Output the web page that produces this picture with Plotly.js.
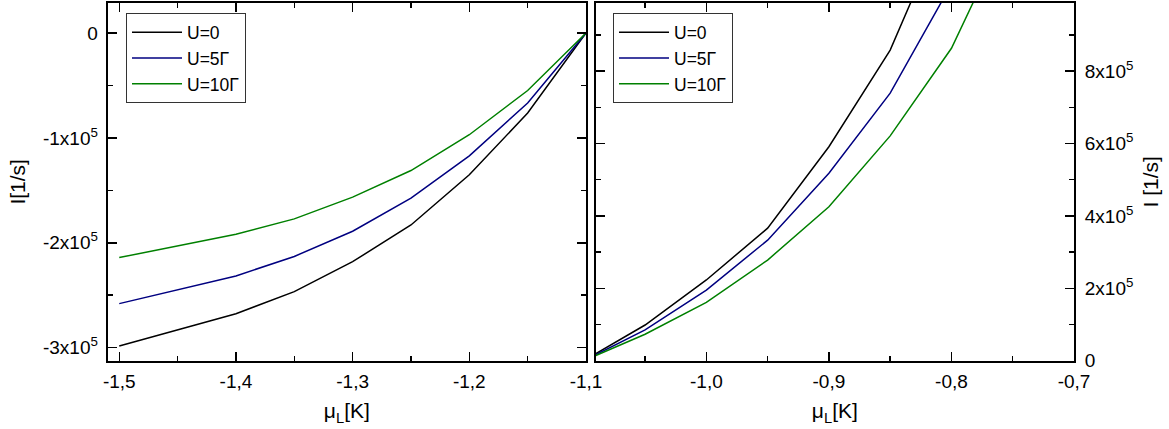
<!DOCTYPE html>
<html>
<head>
<meta charset="utf-8">
<script src="https://cdn.plot.ly/plotly-3.0.1.min.js"></script>
<style>html,body{margin:0;padding:0;background:#fff;}#plot{width:1169px;height:429px;}</style>
</head>
<body>
<div id="plot"></div>
<script>
// ---- data (left panel: negative bias) ----
const xLeft = [-1.5, -1.4, -1.35, -1.3, -1.25, -1.2, -1.15, -1.1];
const leftU0   = [-2.984e5, -2.676e5, -2.466e5, -2.18e5, -1.83e5, -1.352e5, -0.763e5, 0];
const leftU5   = [-2.58e5, -2.316e5, -2.13e5, -1.89e5, -1.575e5, -1.171e5, -0.668e5, 0];
const leftU10  = [-2.141e5, -1.918e5, -1.772e5, -1.565e5, -1.311e5, -0.970e5, -0.548e5, 0];

// ---- data (right panel: positive bias) ----
const xRight = [-1.1, -1.05, -1.0, -0.95, -0.9, -0.85, -0.8, -0.75];
const rightU0  = [0, 0.986e5, 2.23e5, 3.66e5, 5.91e5, 8.58e5, 12.5e5, null];
const rightU5  = [0, 0.85e5, 1.95e5, 3.33e5, 5.18e5, 7.39e5, 10.4e5, null];
const rightU10 = [0, 0.73e5, 1.61e5, 2.78e5, 4.25e5, 6.21e5, 8.63e5, 12.2e5];

const seriesNames = ['U=0', 'U=5\u0393', 'U=10\u0393'];

// ---- ticks ----
const xLeftTickVals = [-1.5, -1.4, -1.3, -1.2, -1.1];
const xLeftTickText = ['-1,5', '-1,4', '-1,3', '-1,2', '-1,1'];
const xLeftMinor = [-1.45, -1.35, -1.25, -1.15];
const yLeftTickVals = [0, -1e5, -2e5, -3e5];
const yLeftTickText = ['0', '-1x10<sup>5</sup>', '-2x10<sup>5</sup>', '-3x10<sup>5</sup>'];
const yLeftMinor = [-0.5e5, -1.5e5, -2.5e5];
const xRightTickVals = [-1.0, -0.9, -0.8, -0.7];
const xRightTickText = ['-1,0', '-0,9', '-0,8', '-0,7'];
const xRightMinor = [-1.05, -0.95, -0.85, -0.75];
const yRightTickVals = [0, 2e5, 4e5, 6e5, 8e5];
const yRightTickText = ['0', '2x10<sup>5</sup>', '4x10<sup>5</sup>', '6x10<sup>5</sup>', '8x10<sup>5</sup>'];
const yRightMinor = [1e5, 3e5, 5e5, 7e5, 9e5];

const colors = ['#000000', '#000080', '#008000'];
const FONT = 'Arial, "Liberation Sans", sans-serif';

const leftY = [leftU0, leftU5, leftU10];
const rightY = [rightU0, rightU5, rightU10];
const traces = [];
for (let i = 0; i < 3; i++) {
  traces.push({x: xLeft, y: leftY[i], xaxis: 'x', yaxis: 'y', mode: 'lines', name: seriesNames[i],
    line: {color: colors[i], width: 1.5}, legend: 'legend'});
}
for (let i = 0; i < 3; i++) {
  traces.push({x: xRight, y: rightY[i], xaxis: 'x2', yaxis: 'y2', mode: 'lines', name: seriesNames[i],
    line: {color: colors[i], width: 1.5}, legend: 'legend2', connectgaps: false});
}

const W = 1169, H = 429;
const axBase = {
  showline: true, linecolor: '#000', linewidth: 2, mirror: 'ticks',
  ticks: 'inside', ticklen: 9, tickwidth: 1.5, tickcolor: '#000',
  showgrid: false, zeroline: false, automargin: false,
  tickfont: {family: FONT, size: 19, color: '#000'}
};
function minor(vals) { return {tickmode: 'array', tickvals: vals, ticks: 'inside', ticklen: 5, tickwidth: 1.5, tickcolor: '#000', showgrid: false}; }

const yDom = [1 - 360.7 / H, 1 - 3 / H];
const layout = {
  width: W, height: H,
  margin: {l: 0, r: 0, t: 0, b: 0},
  paper_bgcolor: '#fff', plot_bgcolor: '#fff',
  font: {family: FONT, color: '#000'},
  showlegend: true,
  xaxis: Object.assign({}, axBase, {
    domain: [107.7 / W, 586 / W], range: [-1.5099, -1.1], anchor: 'y',
    tickmode: 'array', tickvals: xLeftTickVals, ticktext: xLeftTickText, minor: minor(xLeftMinor),
    ticklabelstandoff: 2,
    title: {text: '\u03bc<sub>L</sub>[K]', font: {family: FONT, size: 21}, standoff: 13}
  }),
  yaxis: Object.assign({}, axBase, {
    domain: yDom, range: [-3.124e5, 0.286e5], anchor: 'x',
    tickmode: 'array', tickvals: yLeftTickVals, ticktext: yLeftTickText, minor: minor(yLeftMinor),
    ticklabelstandoff: 4,
    title: {text: 'I[1/s]', font: {family: FONT, size: 21}, standoff: 12}
  }),
  xaxis2: Object.assign({}, axBase, {
    domain: [595.7 / W, 1074 / W], range: [-1.0903, -0.7], anchor: 'y2',
    tickmode: 'array', tickvals: xRightTickVals, ticktext: xRightTickText, minor: minor(xRightMinor),
    ticklabelstandoff: 2,
    title: {text: '\u03bc<sub>L</sub>[K]', font: {family: FONT, size: 21}, standoff: 13}
  }),
  yaxis2: Object.assign({}, axBase, {
    domain: yDom, range: [0, 9.88e5], anchor: 'x2', side: 'right',
    tickmode: 'array', tickvals: yRightTickVals, ticktext: yRightTickText, minor: minor(yRightMinor),
    ticklabelstandoff: 5,
    title: {text: 'I [1/s]', font: {family: FONT, size: 21}, standoff: 11}
  }),
  legend: {x: 126 / W, y: 1 - 13.3 / H, xanchor: 'left', yanchor: 'top',
    bgcolor: '#fff', bordercolor: '#333', borderwidth: 1,
    font: {family: FONT, size: 17.5, color: '#000'}, itemwidth: 50},
  legend2: {x: 613 / W, y: 1 - 13.3 / H, xanchor: 'left', yanchor: 'top',
    bgcolor: '#fff', bordercolor: '#333', borderwidth: 1,
    font: {family: FONT, size: 17.5, color: '#000'}, itemwidth: 50}
};

Plotly.newPlot('plot', traces, layout, {displayModeBar: false, staticPlot: true});
</script>
</body>
</html>
